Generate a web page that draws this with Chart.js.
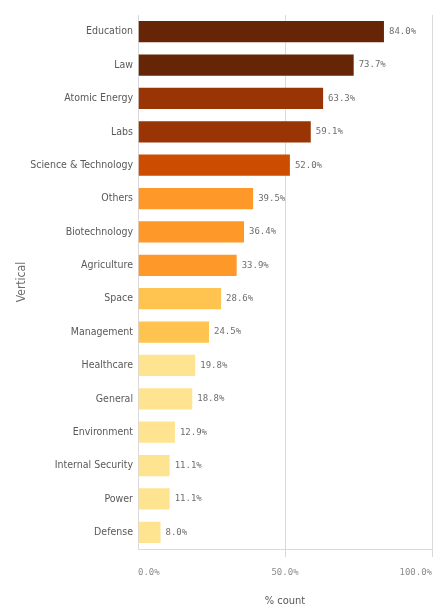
<!DOCTYPE html>
<html>
<head>
<meta charset="utf-8">
<script src="https://cdn.jsdelivr.net/npm/chart.js@4"></script>
<style>
  html, body { margin: 0; padding: 0; background: #fff; }
  #wrap { width: 442px; height: 608px; position: relative; }
</style>
</head>
<body>
<div id="wrap"><canvas id="myChart"></canvas></div>
<script>
const categories = ["Education", "Law", "Atomic Energy", "Labs", "Science & Technology", "Others",
  "Biotechnology", "Agriculture", "Space", "Management", "Healthcare", "General",
  "Environment", "Internal Security", "Power", "Defense"];
const percentCount = [84.0, 73.7, 63.3, 59.1, 52.0, 39.5, 36.4, 33.9, 28.6, 24.5, 19.8, 18.8, 12.9, 11.1, 11.1, 8.0];
const barColors = ["#662506", "#662506", "#993404", "#993404", "#cc4c02", "#fe9929",
  "#fe9929", "#fe9929", "#fec44f", "#fec44f", "#fee391", "#fee391",
  "#fee391", "#fee391", "#fee391", "#fee391"];
const xTicks = [0, 50, 100];

const labelFont = "'Liberation Sans Narrow', 'DejaVu Sans Condensed', sans-serif";
const numFont = "'DejaVu Sans Mono', monospace";

// value labels to the right of each bar
const valueLabels = {
  id: "valueLabels",
  afterDatasetsDraw(chart) {
    const ctx = chart.ctx;
    const meta = chart.getDatasetMeta(0);
    ctx.save();
    ctx.font = "9px " + numFont;
    ctx.fillStyle = "#6e6e6e";
    ctx.textBaseline = "middle";
    ctx.textAlign = "left";
    meta.data.forEach((bar, i) => {
      ctx.fillText(percentCount[i].toFixed(1) + "%", bar.x + 4, bar.y);
    });
    ctx.restore();
  }
};

const data = {
  labels: categories,
  datasets: [{
    label: "% count",
    data: percentCount,
    backgroundColor: barColors,
    borderColor: "rgba(255,255,255,0.35)",
    borderWidth: 1,
    barPercentage: 0.7,
    categoryPercentage: 1.0
  }]
};

const config = {
  type: "bar",
  data: data,
  options: {
    indexAxis: "y",
    responsive: true,
    maintainAspectRatio: false,
    animation: false,
    layout: { padding: { top: 15, right: 10, left: 0, bottom: 0 } },
    plugins: {
      legend: { display: false },
      tooltip: { enabled: false }
    },
    scales: {
      x: {
        min: 0,
        max: 100,
        afterBuildTicks(scale) {
          scale.ticks = xTicks.map(v => ({ value: v }));
        },
        afterFit(scale) { scale.height = 59; },
        ticks: {
          align: "inner",
          color: "#8c8c8c",
          font: { family: numFont, size: 9 },
          padding: 10,
          callback: v => v.toFixed(1) + "%"
        },
        grid: {
          color: ctx => ctx.tick && ctx.tick.value === 0 ? "rgba(0,0,0,0)" : "#d9d9d9",
          tickLength: 8,
          lineWidth: 1
        },
        border: { color: "#d9d9d9" },
        title: {
          display: true,
          text: "% count",
          color: "#595959",
          font: { family: labelFont, size: 11 },
          padding: { top: 5, bottom: 0 }
        }
      },
      y: {
        afterFit(scale) { scale.width = 138; },
        ticks: {
          color: "#595959",
          font: { family: labelFont, size: 10.5 },
          padding: 5
        },
        grid: { display: false, drawTicks: false },
        border: { color: "#d9d9d9" },
        title: {
          display: true,
          text: "Vertical",
          color: "#6e6e6e",
          font: { family: labelFont, size: 12 },
          padding: { top: 15, bottom: 0 }
        }
      }
    }
  },
  plugins: [valueLabels]
};

var myChart = new Chart(document.getElementById("myChart"), config);
</script>
</body>
</html>
